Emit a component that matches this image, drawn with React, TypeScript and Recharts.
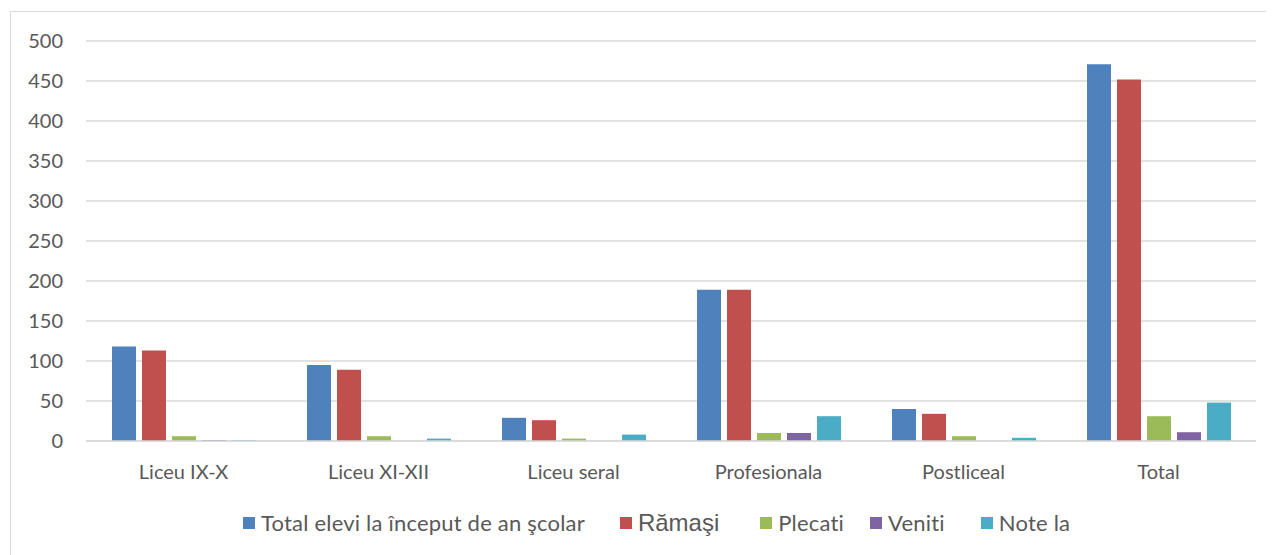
import React from "react";
import { BarChart, Bar, XAxis, YAxis, CartesianGrid, Legend } from "recharts";

const categories = ["Liceu IX-X", "Liceu XI-XII", "Liceu seral", "Profesionala", "Postliceal", "Total"];
const totalElevi = [118, 95, 29, 189, 40, 471];
const ramasi = [113, 89, 26, 189, 34, 452];
const plecati = [6, 6, 3, 10, 6, 31];
const veniti = [1, 0, 0, 10, 0, 11];
const noteLa = [1, 3, 8, 31, 4, 48];
const yTicks = [0, 50, 100, 150, 200, 250, 300, 350, 400, 450, 500];

const series = [
  { key: "total", name: "Total elevi la început de an şcolar", color: "#4f81bd", values: totalElevi },
  { key: "ramasi", name: "Rămaşi", color: "#c0504d", values: ramasi },
  { key: "plecati", name: "Plecati", color: "#9bbb59", values: plecati },
  { key: "veniti", name: "Veniti", color: "#8064a2", values: veniti },
  { key: "note", name: "Note la", color: "#4bacc6", values: noteLa },
];

const data = categories.map((name, i) => {
  const row: Record<string, string | number> = { name };
  series.forEach((s) => {
    row[s.key] = s.values[i];
  });
  return row;
});

const FONT = "Lato, 'Open Sans', sans-serif";
const TEXT = "#595959";

// legend gaps after each item
const legendGaps = [35, 41, 26, 36, 0];

const renderLegend = () => (
  <div
    style={{
      display: "flex",
      alignItems: "center",
      paddingLeft: 232,
      fontFamily: FONT,
      fontSize: 22,
      letterSpacing: 0.2,
      color: TEXT,
      whiteSpace: "nowrap",
      lineHeight: "26px",
    }}
  >
    {series.map((s, i) => (
      <div key={s.key} style={{ display: "flex", alignItems: "center", marginRight: legendGaps[i] }}>
        <span style={{ width: 12, height: 12, background: s.color, display: "inline-block", marginRight: 6 }} />
        <span
          style={
            s.key === "ramasi"
              ? { fontFamily: "'Liberation Sans', Arial, sans-serif", fontSize: 24, letterSpacing: 0 }
              : undefined
          }
        >
          {s.name}
        </span>
      </div>
    ))}
  </div>
);

export default function App() {
  return (
    <div
      style={{
        marginLeft: 2,
        marginTop: 3,
        width: 1263,
        height: 544,
        borderLeft: "1px solid #d9d9d9",
        borderTop: "1px solid #d9d9d9",
        overflow: "hidden",
      }}
    >
      <BarChart
        width={1263}
        height={544}
        data={data}
        margin={{ top: 29, right: 18, left: 25, bottom: 75 }}
        barSize={24}
        barGap={6}
      >
        <CartesianGrid vertical={false} stroke="#d9d9d9" strokeWidth={1.3} />
        <XAxis
          dataKey="name"
          axisLine={{ stroke: "#d9d9d9", strokeWidth: 1.3 }}
          tickLine={false}
          tickSize={0}
          tickMargin={24}
          height={40}
          tick={{ fill: TEXT, fontSize: 20, fontFamily: FONT }}
        />
        <YAxis
          domain={[0, 500]}
          ticks={yTicks}
          interval={0}
          axisLine={false}
          tickLine={false}
          tickSize={0}
          tickMargin={23}
          width={50}
          tick={{ fill: TEXT, fontSize: 20, fontFamily: FONT }}
        />
        <Legend
          verticalAlign="middle"
          align="center"
          content={renderLegend}
          wrapperStyle={{ position: "absolute", top: 498, left: 0, width: 1263 }}
        />
        {series.map((s) => (
          <Bar key={s.key} dataKey={s.key} name={s.name} fill={s.color} isAnimationActive={false} />
        ))}
      </BarChart>
    </div>
  );
}
